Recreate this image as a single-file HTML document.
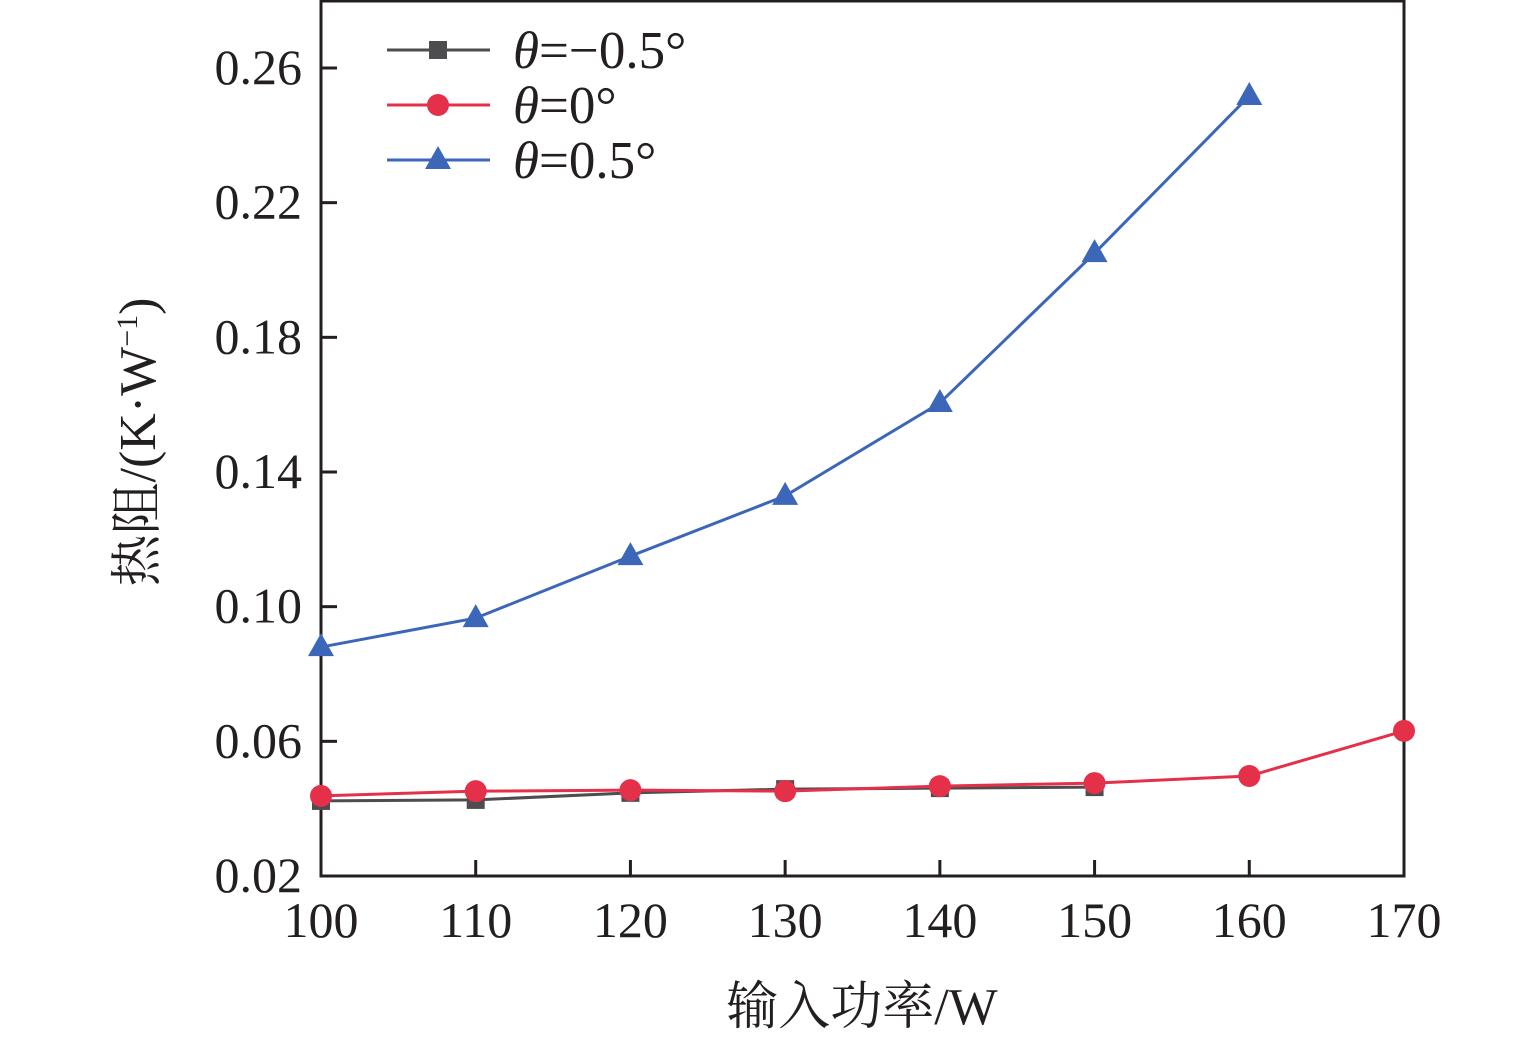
<!DOCTYPE html>
<html><head><meta charset="utf-8"><style>
html,body{margin:0;padding:0;background:#fff;}
svg{display:block;}
text{font-family:"Liberation Serif","Noto Serif CJK SC",serif;fill:#231f20;}
</style></head><body>
<svg id="chart" width="1535" height="1040" viewBox="0 0 1535 1040" xmlns="http://www.w3.org/2000/svg"></svg>
<script>
const categories=[100,110,120,130,140,150,160,170];
const seriesNeg=[0.0423,0.0426,0.0447,0.0458,0.0461,0.0464];
const seriesZero=[0.0438,0.0452,0.0455,0.0452,0.0467,0.0476,0.0497,0.0631];
const seriesPos=[0.088,0.0966,0.115,0.1329,0.1605,0.205,0.2517];
const yTicks=[0.02,0.06,0.10,0.14,0.18,0.22,0.26];
const yTickLabels=["0.02","0.06","0.10","0.14","0.18","0.22","0.26"];
const xTickLabels=["100","110","120","130","140","150","160","170"];

const svg=document.getElementById('chart');
const NS="http://www.w3.org/2000/svg";
const X0=321,X1=1404,Y0=876,Y1=68;
function xs(v){return X0+(v-100)/70*(X1-X0);}
function ys(v){return Y0-(v-0.02)/0.24*(Y0-Y1);}
function mk(tag,attrs,parent){const e=document.createElementNS(NS,tag);for(const k in attrs)e.setAttribute(k,attrs[k]);(parent||svg).appendChild(e);return e;}

const frame=mk('rect',{x:X0,y:1,width:X1-X0,height:Y0-1,fill:'none',stroke:'#231f20','stroke-width':3});



yTicks.forEach((t,i)=>{
  const y=ys(t);
  const tk=mk('line',{x1:X0,x2:X0+16,y1:y,y2:y,stroke:'#231f20','stroke-width':3});
  
  
  const lb=mk('text',{x:X0-19,y:y+16,'text-anchor':'end','font-size':50});
  lb.textContent=yTickLabels[i];
  
  
});
categories.forEach((c,i)=>{
  const x=xs(c);
  const tk=mk('line',{x1:x,x2:x,y1:Y0,y2:Y0-16,stroke:'#231f20','stroke-width':3});
  
  
  const lb=mk('text',{x:x,y:937,'text-anchor':'middle','font-size':50});
  lb.textContent=xTickLabels[i];
  
  
});

const xt=mk('text',{x:862,y:1024,'text-anchor':'middle','font-size':52});
xt.textContent='输入功率/W';


const yt=mk('text',{x:0,y:0,'text-anchor':'middle','font-size':52,transform:'translate(155,442) rotate(-90)'});
yt.innerHTML='热阻/(K·W<tspan font-size="30" dy="-18">−1</tspan><tspan dy="18">)</tspan>';



function marker(type,x,y,color,name){
  let m;
  if(type==='square')m=mk('rect',{x:x-9,y:y-9,width:18,height:18,fill:color});
  else if(type==='circle')m=mk('circle',{cx:x,cy:y,r:11,fill:color});
  else m=mk('polygon',{points:`${x},${y-14} ${x-13},${y+9} ${x+13},${y+9}`,fill:color});
  
  
}
function series(vals,color,type,name){
  const pts=vals.map((v,i)=>xs(categories[i])+','+ys(v)).join(' ');
  const pl=mk('polyline',{points:pts,fill:'none',stroke:color,'stroke-width':3});
  
  
  vals.forEach((v,i)=>marker(type,xs(categories[i]),ys(v),color,name+'-point'));
}
series(seriesNeg,'#4d4d50','square','series-neg-0-5');
series(seriesZero,'#e5304a','circle','series-0');
series(seriesPos,'#3c67b8','triangle','series-pos-0-5');

const legend=[['#4d4d50','square','θ','=−0.5°',50],['#e5304a','circle','θ','=0°',105],['#3c67b8','triangle','θ','=0.5°',160]];
legend.forEach((l,i)=>{
  const ln=mk('line',{x1:387,x2:490,y1:l[4],y2:l[4],stroke:l[0],'stroke-width':3});
  
  
  marker(l[1],438,l[4],l[0],'legend-marker');
  const t=mk('text',{x:513,y:l[4]+18,'font-size':53});
  t.innerHTML='<tspan font-style="italic">'+l[2]+'</tspan>'+l[3];
  
  
});
</script>
</body></html>
